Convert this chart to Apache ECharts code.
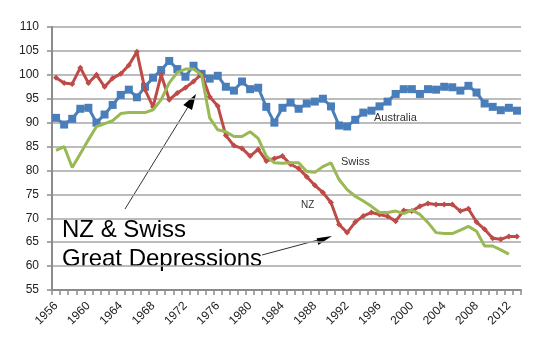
<!DOCTYPE html>
<html><head><meta charset="utf-8">
<script src="https://cdn.jsdelivr.net/npm/echarts@6/dist/echarts.min.js"></script>
<style>html,body{margin:0;padding:0;background:#fff}#c{width:535px;height:356px}</style>
</head><body><div id="c"></div>
<script>
var years = [];
for (var y = 1956; y <= 2013; y++) years.push(String(y));
var australia = [91.0,89.6,90.8,92.9,93.1,90.0,91.7,93.7,95.8,96.9,95.3,97.5,99.4,101.0,102.9,101.2,
  99.6,101.9,100.2,99.2,99.8,97.5,96.7,98.6,97.0,97.3,93.3,90.0,93.1,94.2,92.9,94.0,94.4,95.0,93.4,89.4,89.2,
  90.6,92.1,92.5,93.4,94.4,96.0,97.0,97.0,96.0,97.0,96.9,97.5,97.4,96.7,97.7,96.3,94.0,93.3,92.6,93.1,92.5];
var nz = [99.4,98.3,98.1,101.5,98.3,100.0,97.5,99.3,100.2,102.0,104.8,96.9,93.3,100.0,94.8,96.2,
  97.3,98.6,100.2,95.4,93.5,87.3,85.2,84.6,83.0,84.4,82.0,82.5,83.0,81.3,80.4,78.7,76.9,75.4,73.3,68.7,67.0,
  69.2,70.5,71.2,70.8,70.4,69.4,71.6,71.5,72.5,73.1,72.9,72.9,72.9,71.5,72.0,69.2,67.7,65.8,65.6,66.2,66.2];
var swiss = [84.2,85.0,80.6,83.5,86.4,89.2,89.8,90.4,91.9,92.1,92.1,92.1,92.7,94.8,98.3,100.5,
  101.2,101.2,100.0,91.0,88.5,88.1,87.1,87.1,88.1,86.7,83.0,81.6,81.5,81.6,81.6,79.8,79.6,80.8,81.6,78.1,76.0,
  74.6,73.6,72.5,71.2,71.2,71.5,71.0,71.7,70.8,69.1,67.0,66.8,66.8,67.5,68.3,67.3,64.2,64.2,63.4,62.5,null];

var chart = echarts.init(document.getElementById('c'), null, {renderer:'canvas'});
var font = 'Liberation Sans, Arial, sans-serif';
chart.setOption({
  animation:false,
  backgroundColor:'#fff',
  grid:{left:52, right:14, top:27, bottom:66},
  xAxis:{type:'category', data:years, boundaryGap:true,
    axisLine:{lineStyle:{color:'#8c8c8c', width:2}},
    axisTick:{show:true, interval:0, length:5, lineStyle:{color:'#8c8c8c', width:1.5}},
    axisLabel:{interval:3, rotate:45, color:'#222', fontFamily:font, fontSize:12, margin:14},
    splitLine:{show:false}},
  yAxis:{type:'value', min:55, max:110, interval:5,
    axisLine:{show:true, lineStyle:{color:'#8c8c8c', width:2}},
    axisTick:{show:true, length:5, lineStyle:{color:'#8c8c8c', width:1.5}},
    axisLabel:{color:'#222', fontFamily:font, fontSize:12, margin:13},
    splitLine:{lineStyle:{color:'#a6a6a6', width:1.5}}},
  series:[
    {name:'Australia', type:'line', data:australia, symbol:'rect', symbolSize:8, showSymbol:true, showAllSymbol:true,
      lineStyle:{color:'#4a7ebb', width:3}, itemStyle:{color:'#4a7ebb'}, z:3},
    {name:'NZ', type:'line', data:nz, symbol:'diamond', symbolSize:6, showAllSymbol:true,
      lineStyle:{color:'#be4b48', width:3}, itemStyle:{color:'#be4b48'}, z:4},
    {name:'Swiss', type:'line', data:swiss, symbol:'none',
      lineStyle:{color:'#98b954', width:3}, itemStyle:{color:'#98b954'}, z:5}
  ],
  graphic:[
    {type:'text', left:374, top:112, style:{text:'Australia', font:'11px '+font, fill:'#333'}},
    {type:'text', left:341, top:156, style:{text:'Swiss', font:'11px '+font, fill:'#333'}},
    {type:'text', left:301, top:200, style:{text:'NZ', font:'10px '+font, fill:'#333'}},
    {type:'text', left:62, top:216, style:{text:'NZ & Swiss\nGreat Depressions', font:'24px '+font, fill:'#000', lineHeight:29}},
    {type:'line', shape:{x1:125, y1:209, x2:188, y2:107}, style:{stroke:'#333', lineWidth:1}},
    {type:'polygon', shape:{points:[[196,94],[192,110],[183.3,105]]}, style:{fill:'#000'}},
    {type:'line', shape:{x1:262, y1:255, x2:318, y2:240}, style:{stroke:'#333', lineWidth:1}},
    {type:'polygon', shape:{points:[[332,236],[316.7,238.3],[318.3,245]]}, style:{fill:'#000'}}
  ]
});
</script></body></html>
